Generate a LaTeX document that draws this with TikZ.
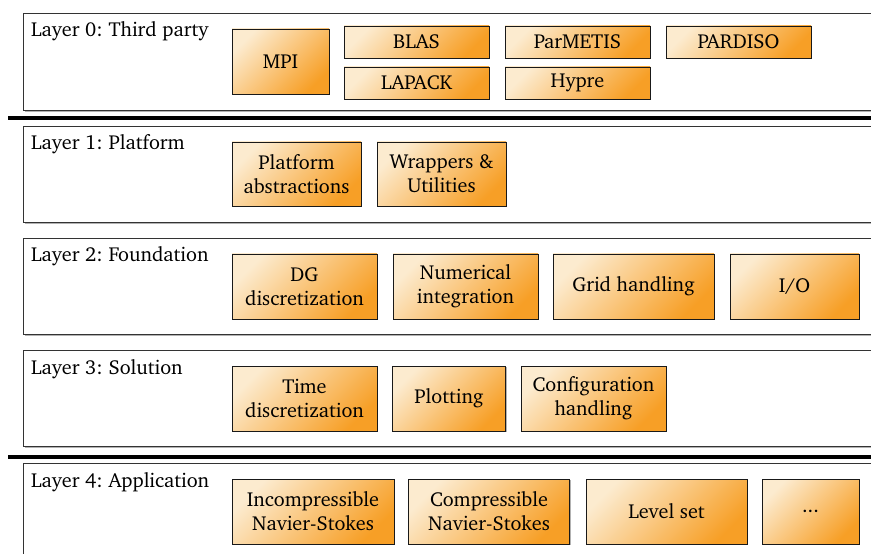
\documentclass[tikz,border=0pt]{standalone}
\usepackage[T1]{fontenc}
\usepackage{charter}
\usepackage{xcolor}
\usetikzlibrary{calc,shadows}
\definecolor{compLight}{HTML}{FCEBCF}
\definecolor{compMid}{HTML}{F4B656}
\definecolor{compDark}{HTML}{F79F26}
\frenchspacing
\tikzset{
  layer/.style = {draw=black!80, line width=0.8bp, fill=white, anchor=north west,
      minimum width=900bp, inner sep=0pt,
      drop shadow={shadow xshift=1.2bp, shadow yshift=-1.2bp, opacity=.3, fill=black}},
  title/.style = {anchor=base west, inner sep=0pt, font=\fontsize{20.3}{24}\selectfont},
  comp/.style = {draw=black!90, line width=0.8bp, rectangle, inner sep=0pt, align=center,
      top color=compLight, middle color=compMid, bottom color=compDark, shading angle=45,
      font=\fontsize{20.3}{24}\selectfont,
      drop shadow={shadow xshift=1.2bp, shadow yshift=-1.2bp, opacity=.3, fill=black}},
  sep/.style = {line width=3.5bp, black}
}

\begin{document}
\begin{tikzpicture}[x=1bp,y=-1bp]
      \useasboundingbox (0,0) rectangle (871,554);
      \clip (0,0) rectangle (871,554);

      % layers
      \node[layer, minimum height=97bp](lay0) at (23,13) {};
      \node[layer, minimum height=96bp](lay1) at (23,126) {};
      \node[layer, minimum height=96bp](lay2) at (23,238) {};
      \node[layer, minimum height=96bp](lay3) at (23,350) {};
      \node[layer, minimum height=97bp](lay4) at (23,463) {};

      \node[title] at ($(lay0.north west)+(8,24)$) (t0) {Layer 0: Third party};
      \node[title] at ($(lay1.north west)+(8,24)$) (t1) {Layer 1: Platform};
      \node[title] at ($(lay2.north west)+(8,24)$) (t2) {Layer 2: Foundation};
      \node[title] at ($(lay3.north west)+(8,24)$) (t3) {Layer 3: Solution};
      \node[title] at ($(lay4.north west)+(8,24)$) (t4) {Layer 4: Application};

      % separators
      \coordinate (s0a) at (8,118);
      \coordinate (s0b) at (900,118);
      \coordinate (s1a) at (8,457);
      \coordinate (s1b) at (900,457);
      \draw[sep] (s0a) -- (s0b);
      \draw[sep] (s1a) -- (s1b);

      % layer 0
      \node[comp, minimum width=97bp, minimum height=65bp] at (280.5,61.5) (mpi) {MPI};
      \node[comp, minimum width=145bp, minimum height=32bp] at (416.5,42) (blas) {BLAS};
      \node[comp, minimum width=145bp, minimum height=32bp] at (416.5,83) (lapack) {LAPACK};
      \node[comp, minimum width=145bp, minimum height=32bp] at (577.5,42) (parmetis) {ParMETIS};
      \node[comp, minimum width=145bp, minimum height=32bp] at (577.5,83) (hypre) {Hypre};
      \node[comp, minimum width=145bp, minimum height=32bp] at (738.5,42) (pardiso) {PARDISO};

      % layer 1
      \node[comp, minimum width=129bp, minimum height=64bp] at (296.5,174) (platform) {Platform\\abstractions};
      \node[comp, minimum width=129bp, minimum height=64bp] at (441.5,174) (wrappers) {Wrappers \&\\Utilities};

      % layer 2
      \node[comp, minimum width=145bp, minimum height=65bp] at (304.5,286.5) (dg) {DG\\discretization};
      \node[comp, minimum width=145bp, minimum height=65bp] at (465.5,286.5) (quad) {Numerical\\integration};
      \node[comp, minimum width=161bp, minimum height=65bp] at (633.5,286.5) (grid) {Grid handling};
      \node[comp, minimum width=129bp, minimum height=65bp] at (794.5,286.5) (io) {I/O};

      % layer 3
      \node[comp, minimum width=145bp, minimum height=65bp] at (304.5,398.5) (time) {Time\\discretization};
      \node[comp, minimum width=113bp, minimum height=65bp] at (449,398.5) (plot) {Plotting};
      \node[comp, minimum width=145bp, minimum height=65bp] at (593.5,398.5) (config) {Configuration\\handling};

      % layer 4
      \node[comp, minimum width=162bp, minimum height=65bp] at (313,511.5) (incns) {Incompressible\\Navier-Stokes};
      \node[comp, minimum width=161bp, minimum height=65bp] at (489,511.5) (compns) {Compressible\\Navier-Stokes};
      \node[comp, minimum width=161bp, minimum height=65bp] at (666.5,511.5) (levelset) {Level set};
      \node[comp, minimum width=97bp, minimum height=65bp] at (810.5,511.5) (more) {...};
\end{tikzpicture}
\end{document}
